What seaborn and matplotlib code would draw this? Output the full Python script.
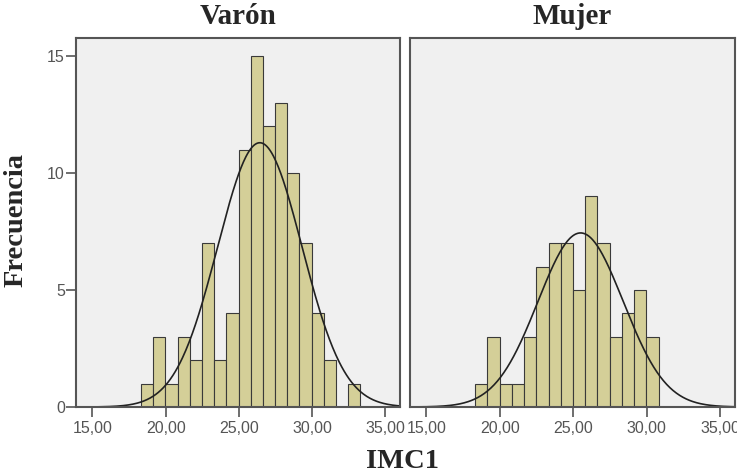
import numpy as np
import pandas as pd
import matplotlib
matplotlib.use("Agg")
import matplotlib.pyplot as plt
import seaborn as sns
from matplotlib.ticker import FuncFormatter

# ---- data ----
panels = ["Varón", "Mujer"]
bin_start = 18.32
bin_width = 0.832
counts_varon = [1, 3, 1, 3, 2, 7, 2, 4, 11, 15, 12, 13, 10, 7, 4, 2, 0, 1]
counts_mujer = [1, 3, 1, 1, 3, 6, 7, 7, 5, 9, 7, 3, 4, 5, 3]
mean_varon, sd_varon = 26.43, 2.88
mean_mujer, sd_mujer = 25.49, 2.90
x_ticks = [15, 20, 25, 30, 35]
y_ticks = [0, 5, 10, 15]
x_label = "IMC1"
y_label = "Frecuencia"

sns.set_style("white")
plt.rcParams["font.family"] = ["Liberation Sans", "DejaVu Sans"]

fig = plt.figure(figsize=(7.37, 4.73), dpi=100)
ax_pos = [
    [76 / 737, 1 - 407 / 473, 324 / 737, 369 / 473],
    [410 / 737, 1 - 407 / 473, 325 / 737, 369 / 473],
]

bar_color = "#D4CF98"
serif = ["Liberation Serif", "DejaVu Serif"]

datasets = [
    (counts_varon, mean_varon, sd_varon),
    (counts_mujer, mean_mujer, sd_mujer),
]

for i, (name, (counts, mu, sd)) in enumerate(zip(panels, datasets)):
    ax = fig.add_axes(ax_pos[i])
    ax.set_facecolor("#F0F0F0")
    n = len(counts)
    edges = bin_start + bin_width * np.arange(n + 1)
    centers = (edges[:-1] + edges[1:]) / 2
    df = pd.DataFrame({"x": centers, "w": np.asarray(counts, dtype=float)})
    sns.histplot(data=df, x="x", weights="w",
                 binwidth=bin_width, binrange=(float(edges[0]), float(edges[-1])),
                 ax=ax, color=bar_color, edgecolor="#3A3A3A", linewidth=0.8,
                 alpha=1.0)
    total = sum(counts)
    xs = np.linspace(13.9, 36.0, 400)
    ys = total * bin_width * np.exp(-0.5 * ((xs - mu) / sd) ** 2) / (sd * np.sqrt(2 * np.pi))
    sns.lineplot(x=xs, y=ys, ax=ax, color="#222222", linewidth=1.2)

    ax.set_xlim(13.88, 36.0)
    ax.set_ylim(0, 15.77)
    ax.set_xticks(x_ticks)
    ax.xaxis.set_major_formatter(FuncFormatter(lambda v, p: f"{v:.2f}".replace(".", ",")))
    ax.set_xlabel("")
    ax.set_ylabel("")
    if i == 0:
        ax.set_yticks(y_ticks)
        ax.tick_params(axis="y", left=True, length=7, width=1.2, color="#555555",
                       labelsize=11.5, labelcolor="#555555", pad=1)
    else:
        ax.set_yticks([])
    ax.tick_params(axis="x", bottom=True, length=7, width=1.2, color="#555555",
                   labelsize=11.5, labelcolor="#555555", pad=3)
    for s in ax.spines.values():
        s.set_visible(True)
        s.set_color("#555555")
        s.set_linewidth(1.5)
    cx = ax_pos[i][0] + ax_pos[i][2] / 2
    fig.text(cx, 1 - 17 / 473, name, ha="center", va="center",
             fontsize=21, fontweight="bold", family=serif)

fig.text(16 / 737, 1 - 220 / 473, y_label, rotation=90, ha="center", va="center",
         fontsize=20.5, fontweight="bold", family=serif)
fig.text(403 / 737, 1 - 461 / 473, x_label, ha="center", va="center",
         fontsize=20.5, fontweight="bold", family=serif)

fig.savefig("out.png", dpi=100, facecolor="white")
